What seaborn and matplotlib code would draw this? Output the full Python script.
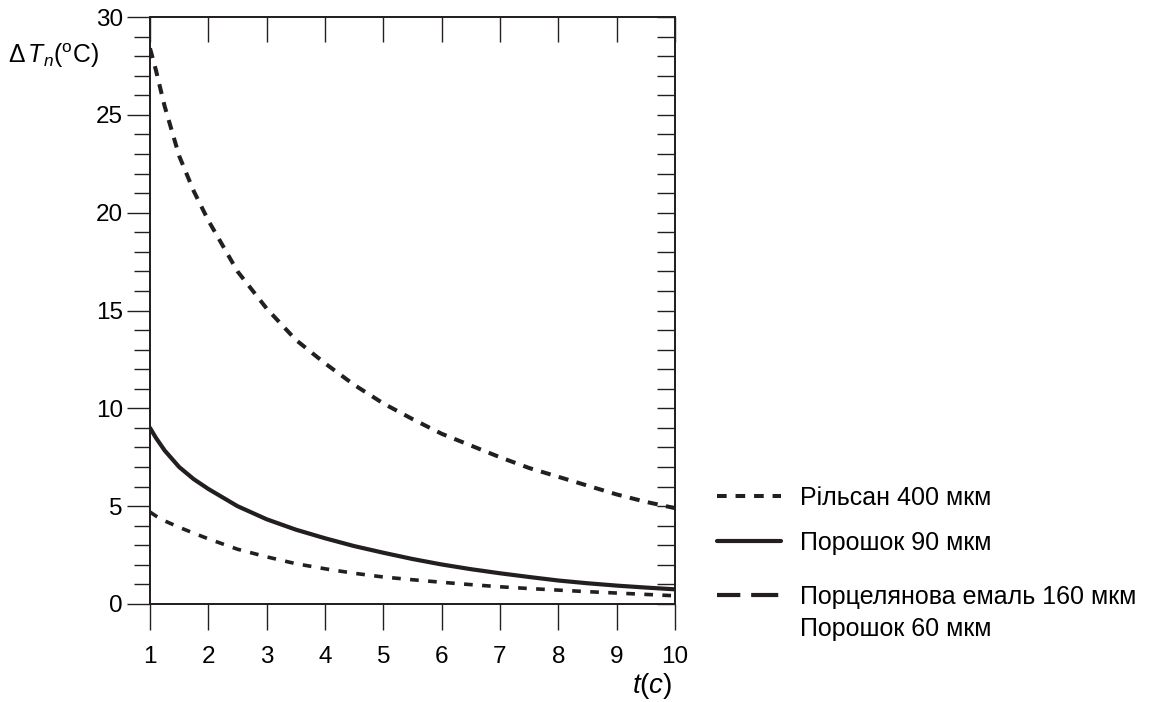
import matplotlib
matplotlib.use("Agg")
import matplotlib.pyplot as plt
from matplotlib.lines import Line2D
from matplotlib.ticker import MultipleLocator
import pandas as pd
import seaborn as sns

# values
t = [1, 1.1, 1.25, 1.5, 1.75, 2, 2.5, 3, 3.5, 4, 4.5, 5, 5.5, 6, 6.5, 7, 7.5, 8, 8.5, 9, 9.5, 10]
rilsan_400 = [28.4, 27.3, 25.45, 22.9, 21.1, 19.6, 17.0, 15.1, 13.5, 12.3, 11.2, 10.25,
              9.45, 8.7, 8.1, 7.5, 6.95, 6.5, 6.05, 5.6, 5.22, 4.9]
powder_90 = [9.0, 8.5, 7.85, 7.0, 6.38, 5.88, 5.0, 4.33, 3.8, 3.36, 2.96, 2.62,
             2.3, 2.02, 1.78, 1.57, 1.38, 1.2, 1.06, 0.94, 0.84, 0.75]
enamel_160 = [4.7, 4.5, 4.25, 3.92, 3.62, 3.33, 2.8, 2.41, 2.06, 1.8, 1.57, 1.38,
              1.24, 1.11, 0.99, 0.88, 0.79, 0.71, 0.63, 0.56, 0.49, 0.42]

labels = ["Рільсан 400 мкм", "Порошок 90 мкм", "Порцелянова емаль 160 мкм", "Порошок 60 мкм"]

df = pd.DataFrame({"t": t, "rilsan": rilsan_400, "powder90": powder_90, "enamel": enamel_160})

sns.set_theme(style="ticks")
plt.rcParams["font.family"] = ["Liberation Sans", "DejaVu Sans"]
plt.rcParams["text.color"] = "black"
plt.rcParams["mathtext.fontset"] = "custom"
plt.rcParams["mathtext.rm"] = "Liberation Sans"
plt.rcParams["mathtext.it"] = "Liberation Sans:italic"

ink = "#231f20"

fig = plt.figure(figsize=(11.56, 7.02), dpi=100)
ax = fig.add_axes([150 / 1156, 98 / 702, 525 / 1156, 587 / 702])

sns.lineplot(data=df, x="t", y="rilsan", ax=ax, color=ink, lw=2.9,
             linestyle=(0, (2.5, 2.1)))
sns.lineplot(data=df, x="t", y="powder90", ax=ax, color=ink, lw=3.0)
sns.lineplot(data=df, x="t", y="enamel", ax=ax, color=ink, lw=2.6,
             linestyle=(0, (2.4, 2.6)))
for ln in ax.lines:
    ln.set_dash_capstyle("butt")
    ln.set_solid_joinstyle("round")

ax.set_xlim(1, 10)
ax.set_ylim(0, 30)
ax.set_xlabel("")
ax.set_ylabel("")

for sp in ax.spines.values():
    sp.set_visible(True)
    sp.set_color(ink)
    sp.set_linewidth(1.1)

ax.xaxis.set_major_locator(MultipleLocator(1))
ax.yaxis.set_major_locator(MultipleLocator(5))
ax.yaxis.set_minor_locator(MultipleLocator(1))
ax.tick_params(axis="x", which="major", direction="out", length=19, width=1.0,
               color=ink, labelsize=17.5, pad=11, labelcolor="black")
ax.tick_params(axis="y", which="major", direction="out", length=16.5, width=1.0,
               color=ink, labelsize=17.5, pad=3, labelcolor="black")
ax.tick_params(axis="y", which="minor", direction="out", length=11.5, width=1.0, color=ink)

# inner ticks on the right and top sides
axr = ax.twinx()
axr.set_ylim(0, 30)
axr.yaxis.set_major_locator(MultipleLocator(1))
axr.tick_params(axis="y", direction="in", length=13, width=1.0, color=ink, labelright=False)
axt = ax.twiny()
axt.set_xlim(1, 10)
axt.xaxis.set_major_locator(MultipleLocator(1))
axt.tick_params(axis="x", direction="in", length=18, width=1.0, color=ink, labeltop=False)
for a in (axr, axt):
    for sp in a.spines.values():
        sp.set_color(ink)
        sp.set_linewidth(1.1)

fig.text(8 / 1156, 1 - 56 / 702, r"$\Delta\,\mathit{T}_{\mathit{n}}(^{\mathrm{o}}\mathrm{C})$",
         fontsize=17.8, ha="left", va="center")
fig.text(652 / 1156, 1 - 686 / 702, r"$\mathit{t}(\mathit{c})$",
         fontsize=20, ha="center", va="center")

h1 = [Line2D([], [], color=ink, lw=2.9, linestyle=(0, (2.4, 2.2)), dash_capstyle="butt"),
      Line2D([], [], color=ink, lw=3.0)]
leg1 = ax.legend(h1, labels[:2], loc="upper left", bbox_to_anchor=(717 / 1156, 1 - 486 / 702),
                 bbox_transform=fig.transFigure, frameon=False, fontsize=18,
                 handlelength=2.56, handletextpad=0.76, labelspacing=0.84, borderpad=0,
                 borderaxespad=0)
ax.add_artist(leg1)
h2 = [Line2D([], [], color=ink, lw=3.0, linestyle=(0.9, (6.5, 2.6)), dash_capstyle="butt"),
      Line2D([], [], color="none", lw=0)]
ax.legend(h2, labels[2:], loc="upper left", bbox_to_anchor=(717 / 1156, 1 - 585 / 702),
          bbox_transform=fig.transFigure, frameon=False, fontsize=18,
          handlelength=2.56, handletextpad=0.76, labelspacing=0.32, borderpad=0,
          borderaxespad=0)

fig.savefig("out.png", dpi=100)
